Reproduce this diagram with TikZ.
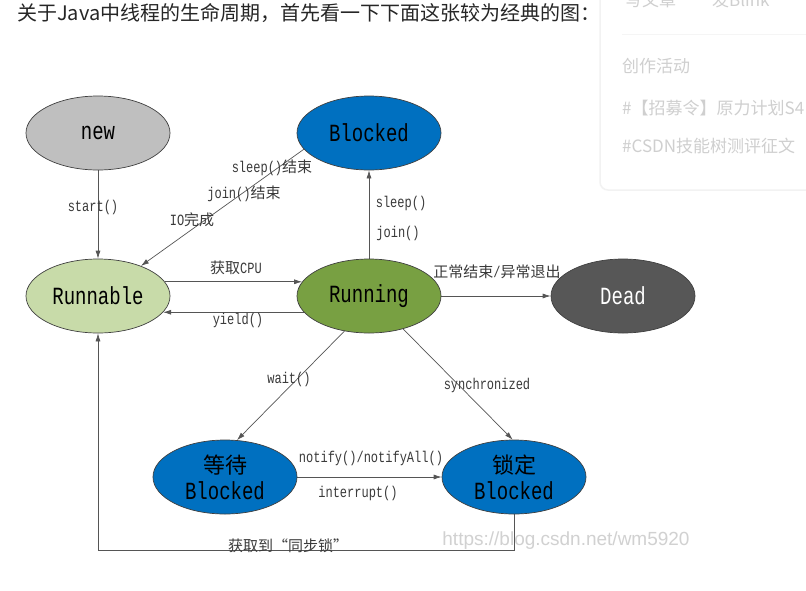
\documentclass[tikz,border=0pt]{standalone}
\usepackage{fontspec}
\setmainfont{Liberation Serif}
\newfontfamily\cjk{Noto Sans CJK SC}
\newfontfamily\monof{Liberation Mono}
\newfontfamily\webf{Liberation Sans}
\newcommand{\tall}[1]{\scalebox{1}[1.3]{#1}}
\newcommand{\zh}[1]{{\fontsize{15}{17}\selectfont\cjk #1}}
\newcommand{\bigzh}[1]{{\fontsize{22}{24}\selectfont\cjk #1}}
\usetikzlibrary{shapes.geometric,arrows.meta}
\pgfdeclarelayer{pagelayer}
\pgfdeclarelayer{edgelayer}
\pgfdeclarelayer{nodelayer}
\pgfsetlayers{pagelayer,edgelayer,nodelayer,main}
\definecolor{newgray}{HTML}{BFBFBF}
\definecolor{blockblue}{HTML}{0070C0}
\definecolor{runlight}{HTML}{C8DBA9}
\definecolor{rungreen}{HTML}{78A042}
\definecolor{deadgray}{HTML}{575757}
\definecolor{rimgray}{HTML}{404040}
\definecolor{linegray}{HTML}{555555}
\definecolor{lblgray}{HTML}{3A3A3A}
\definecolor{webgray}{HTML}{CFCFCF}
\tikzset{font=\footnotesize}
\tikzstyle{none}=[inner sep=0pt]
\tikzstyle{state}=[ellipse,draw=rimgray,line width=0.7pt,minimum width=144pt,minimum height=74pt,inner sep=0pt,align=center,font=\fontsize{19}{26}\selectfont\monof]
\tikzstyle{lbl}=[inner sep=0pt,text=lblgray,font=\fontsize{12}{14}\selectfont\monof]
\tikzstyle{flow}=[draw=linegray,line width=0.7pt,-{Latex[length=8pt,width=5pt]}]
\tikzstyle{side}=[inner sep=0pt,anchor=west,text=webgray,font=\fontsize{17}{20}\selectfont\cjk]

\begin{document}
\begin{tikzpicture}[x=1pt,y=-1pt]
	\useasboundingbox (0,0) rectangle (806,590);
	% page around the picture
	\begin{pgfonlayer}{pagelayer}
		\fill[white] (0,0) rectangle (806,590);
		\begin{scope}
			\clip (0,0) rectangle (806,590);
			\draw[black!5,line width=1.5pt,fill=white,rounded corners=8pt] (600,-20) rectangle (830,190);
			\node [style=side] (write) at (625,0) {写文章};
			\node [style=side] (blink) at (712,0) {发Blink};
			\draw[black!4,line width=0.8pt] (622,34) -- (810,34);
			\node [style=side] (act) at (622,66) {创作活动};
			\node [style=side] (tag1) at (622,108) {\#【招募令】原力计划S4};
			\node [style=side] (tag2) at (622,146) {\#CSDN技能树测评征文};
			\node [inner sep=0pt,anchor=west,text=black!85,font=\fontsize{20}{24}\selectfont\cjk] (title) at (17,13) {关于Java中线程的生命周期，首先看一下下面这张较为经典的图：};
			\node [inner sep=0pt,text=black!18,font=\fontsize{19}{22}\selectfont\webf] (mark) at (566,541) {https://blog.csdn.net/wm5920};
		\end{scope}
	\end{pgfonlayer}
	\begin{pgfonlayer}{nodelayer}
		\node [style=state,fill=newgray] (new) at (98,133) {\tall{new}};
		\node [style=state,fill=blockblue] (blocked) at (369,133) {\tall{Blocked}};
		\node [style=state,fill=runlight] (runnable) at (98,296) {\tall{Runnable}};
		\node [style=state,fill=rungreen] (running) at (369,296) {\tall{Running}};
		\node [style=state,fill=deadgray,text=white] (dead) at (623,296) {\tall{Dead}};
		\node [style=state,fill=blockblue] (wait) at (225,477) {\bigzh{等待}\\\tall{Blocked}};
		\node [style=state,fill=blockblue] (lock) at (514,477) {\bigzh{锁定}\\\tall{Blocked}};
		\coordinate (low) at (98,550);
		\node [style=lbl] (l0) at (93,207) {\tall{start()}};
		\node [style=lbl] (l1) at (272,168) {\tall{sleep()}\zh{结束}};
		\node [style=lbl] (l2) at (244,194) {\tall{join()}\zh{结束}};
		\node [style=lbl] (l3) at (192,220) {\tall{IO}\zh{完成}};
		\node [style=lbl] (l4) at (401,203) {\tall{sleep()}};
		\node [style=lbl] (l5) at (398,233) {\tall{join()}};
		\node [style=lbl] (l6) at (236,268) {\zh{获取}\tall{CPU}};
		\node [style=lbl] (l7) at (238,320) {\tall{yield()}};
		\node [style=lbl] (l8) at (497,272) {\zh{正常结束}\tall{/}\zh{异常退出}};
		\node [style=lbl] (l9) at (289,379) {\tall{wait()}};
		\node [style=lbl] (l10) at (487,385) {\tall{synchronized}};
		\node [style=lbl] (l11) at (371,458) {\tall{notify()/notifyAll()}};
		\node [style=lbl] (l12) at (358,493) {\tall{interrupt()}};
		\node [style=lbl] (l13) at (288,546) {\zh{获取到“同步锁”}};
	\end{pgfonlayer}
	\begin{pgfonlayer}{edgelayer}
		\draw[style=flow] (new) to (runnable);
		\draw[style=flow] (blocked.194) to (runnable.35);
		\draw[style=flow] (running) to (blocked);
		\draw[style=flow] (runnable.12) to (running.168);
		\draw[style=flow] (running.194) to (runnable.-14);
		\draw[style=flow] (running) to (dead);
		\draw[style=flow] (running.235) to (wait.72);
		\draw[style=flow] (running.316) to (lock.92);
		\draw[style=flow] (wait) to (lock);
		\draw[style=flow] (lock.south) |- (low) to (runnable.south);
	\end{pgfonlayer}
\end{tikzpicture}
\end{document}
